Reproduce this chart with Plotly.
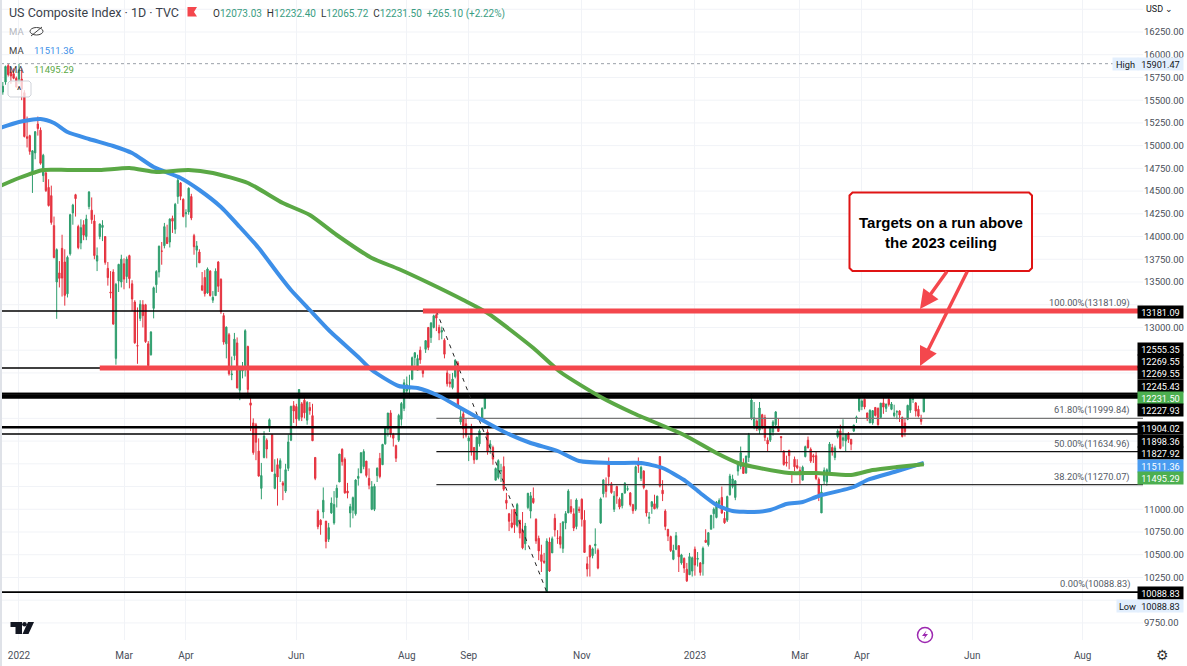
import plotly.graph_objects as go

# ---- daily candles (Dec 2021 tail, then month by month)
first_bar = -6
opens = [15590,15700,15880,15810,15790,15740,
 15733,15732,15582,15097,15110,14700,14920,15238,15170,14670,14700,14540,14450,14120,13500,13600,13870,13720,13370,13810,
 14260,14460,14110,13930,14130,14000,14330,14290,14170,13730,14000,14100,14000,13650,13390,13610,12660,13510,13500,
 13700,13560,13790,13480,13280,12800,13100,13250,13250,12820,12700,13210,13470,13610,13840,13900,13990,13940,14200,14080,14440,14590,14410,
 14250,14270,14440,14010,13850,13830,13460,13550,13380,13620,13300,13350,13720,13530,13130,12820,12920,12480,12690,12830,
 12310,12520,12580,12790,12170,11950,11930,11640,11230,11570,11760,11910,11820,11230,11490,11450,11290,11200,11450,11760,12140,
 12130,11990,12160,12200,11980,12120,12030,11570,10980,10880,10970,10870,10670,10960,10850,11130,11300,11660,11550,11200,10960,
 10990,10950,11340,11400,11470,11530,11340,11000,11000,11370,11560,11490,11720,11880,12060,11820,11700,11760,11990,12110,
 12300,12320,12430,12670,12530,12750,12540,12760,13000,12890,13000,13140,13000,12950,12860,12500,12400,12340,12460,12610,11960,12050,11940,
 11750,11900,11680,11550,11720,11980,12110,11850,11680,11680,11320,11350,11420,11470,11100,10950,10850,11000,10820,10880,10770,
 10620,11020,10980,11120,10890,10680,10500,10430,10090,10640,10520,10900,10680,10700,10570,10850,10960,11030,10950,10810,11000,
 11110,10880,10400,10600,10490,10600,10550,10850,11170,11270,11520,11280,11000,11250,11110,11040,11180,11220,11180,11050,11000,
 11520,11340,11420,11210,10900,11030,11060,11020,11580,11210,10980,10780,10700,10450,10560,10600,10410,10460,10340,10280,10320,
 10560,10450,10410,10400,10660,10610,10780,10950,10910,11060,11130,10900,10880,11160,11250,11130,11420,11470,11500,11400,
 11570,12000,11900,11970,11870,12040,12010,11760,11760,11850,11930,11910,11800,11640,11520,11650,11400,11550,11480,
 11430,11320,11580,11760,11660,11590,11590,11330,10960,11310,11300,11400,11680,11570,11800,11860,11760,11750,11830,11770,11860,12000,12090,
 12130,12210,12060,11950,11950,12120,12110,12010,12170,12110,12210,12100,12030,12070,12080,12010,11950,11990,12090,
 12210,12170,12100,12000,12073.03]
highs = [15700,15880,15901.47,15850,15850,15760,
 15900,15850,15610,15320,15120,14950,15160,15320,15200,14910,14720,14630,14560,14220,13870,13730,14020,13860,13790,14250,
 14360,14470,14130,14190,14180,14240,14500,14430,14240,13880,14140,14180,14000,13720,13620,13640,13490,13700,13800,
 13760,13780,13800,13520,13300,13220,13300,13300,13260,12850,12960,13450,13630,13900,13940,14150,14130,14200,14230,14370,14650,14600,14420,
 14300,14540,14470,14030,13950,13860,13610,13630,13660,13630,13400,13650,13730,13540,13160,13010,12940,12680,12940,12890,
 12560,12620,12980,12800,12240,12000,11950,11780,11510,11860,11780,12000,11820,11550,11560,11560,11310,11500,11820,12140,12190,
 12160,12320,12180,12260,12190,12180,12160,11570,11000,10890,11240,10870,10850,11130,11200,11270,11610,11670,11570,11290,11060,
 11140,11330,11450,11630,11660,11530,11450,11310,11280,11460,11620,11720,11910,12060,12090,11840,11710,12050,12180,12430,
 12460,12480,12680,12730,12700,12790,12560,12860,13000,13060,13140,13181,13030,13010,12880,12550,12490,12500,12650,12630,12100,12090,12000,
 11810,11940,11680,11800,11880,12120,12270,11880,11760,11700,11460,11550,11500,11580,11180,10960,11000,11000,11070,10880,10970,
 10850,11180,11190,11240,10900,10710,10610,10520,10680,10690,10700,10950,10770,10850,10870,10980,11220,11110,11010,11120,11030,
 11120,10990,10480,10610,10580,10790,10570,11130,11330,11350,11570,11300,11200,11260,11130,11180,11300,11260,11190,11060,11480,
 11570,11480,11430,11210,10970,11090,11160,11150,11580,11320,11000,10780,10710,10610,10750,10600,10510,10470,10410,10520,10480,
 10590,10530,10420,10590,10780,10750,10940,11020,11090,11120,11250,10970,11150,11390,11380,11320,11530,11690,11560,11590,
 11840,12270,12180,11990,12180,12050,12040,11790,11900,11980,12080,12000,11800,11650,11590,11650,11410,11580,11550,
 11470,11480,11700,11800,11680,11610,11640,11350,11270,11460,11450,11740,11720,11700,11880,11930,11990,11830,11850,11770,11930,12030,12230,
 12210,12220,12060,12100,12090,12120,12120,12170,12230,12160,12230,12180,12150,12090,12090,12020,12000,12150,12230,
 12270,12180,12140,12040,12232.40]
lows = [15560,15670,15760,15680,15730,15640,
 15680,15500,15090,14980,14900,14480,14850,15110,14790,14600,14490,14330,14130,13760,13095,13440,13340,13240,13330,13790,
 14130,14220,13860,13860,13960,13960,14300,14140,13750,13620,13970,13950,13690,13460,13320,13030,12590,13390,13440,
 13420,13490,13430,13180,12820,12600,13070,13000,12830,12555,12690,13100,13380,13550,13690,13870,13920,13880,14040,14030,14360,14400,14210,
 14100,14240,14180,13800,13660,13710,13400,13340,13370,13340,13270,13350,13390,13150,12810,12660,12470,12420,12640,12330,
 12200,12440,12460,12230,11860,11600,11540,11360,11110,11560,11560,11850,11410,11220,11040,11300,11100,11180,11420,11750,11950,
 11900,11970,11970,12000,11930,12040,11750,11320,10780,10720,10900,10570,10640,10950,10830,11020,11300,11480,11170,11120,10800,
 10900,10930,11260,11400,11440,11350,11220,10990,10980,11300,11340,11490,11710,11800,11790,11690,11520,11740,11920,12080,
 12270,12220,12420,12580,12530,12600,12450,12720,12750,12830,12990,12960,12860,12870,12660,12350,12340,12320,12440,12130,11930,11780,11790,
 11530,11590,11500,11540,11690,11980,12100,11600,11610,11490,11320,11330,11300,11200,11000,10760,10790,10740,10800,10680,10560,
 10550,11000,10900,11060,10620,10440,10310,10400,10088.83,10310,10520,10700,10620,10570,10520,10780,10960,10950,10760,10780,10960,
 10810,10520,10260,10260,10460,10510,10340,10840,11130,11130,11260,11170,10970,11060,11000,11010,11170,11200,11030,10950,10980,
 11400,11310,11220,10920,10840,10950,11000,11000,11240,11090,10770,10650,10530,10440,10550,10310,10390,10300,10200,10280,10260,
 10270,10370,10270,10270,10630,10590,10780,10790,10900,11030,10950,10840,10860,11150,11230,11100,11370,11440,11390,11390,
 11520,11980,11880,11860,11830,11880,11750,11630,11740,11810,11890,11850,11640,11480,11470,11440,11290,11420,11440,
 11280,11320,11570,11670,11510,11510,11320,11090,10980,11270,11260,11380,11590,11540,11780,11660,11690,11630,11730,11650,11850,11950,12070,
 12090,12100,11970,11950,11930,12020,11920,12000,12050,12070,12130,12090,12010,11990,11960,11790,11800,11980,12060,
 12170,12020,12010,11930,12065.72]
closes = [15653,15871,15781,15766,15741,15645,
 15833,15622,15100,15081,14936,14943,15153,15188,14806,14894,14506,14341,14155,13769,13856,13540,13543,13353,13771,14240,
 14346,14417,13878,14098,14015,14194,14490,14185,13791,13790,14139,14124,13716,13548,13381,13037,13474,13694,13751,
 13532,13752,13537,13313,12831,12796,13256,13130,12844,12581,12949,13437,13615,13894,13839,14109,13923,14192,14169,14354,14619,14443,14221,
 14261,14532,14204,13888,13897,13711,13411,13371,13643,13351,13332,13619,13453,13174,12839,13004,12490,12488,12871,12335,
 12536,12564,12964,12318,12145,11624,11738,11365,11371,11805,11663,11985,11418,11389,11355,11535,11265,11435,11741,12131,12081,
 11994,12317,12013,12061,12175,12086,11754,11340,10809,10829,11099,10646,10798,11069,11053,11232,11607,11524,11181,11178,11029,
 11128,11322,11362,11621,11635,11372,11265,11248,11252,11452,11360,11713,11897,12059,11834,11782,11562,12032,12163,12391,
 12369,12349,12668,12721,12658,12644,12494,12855,12780,13048,13128,13103,12939,12966,12706,12381,12381,12432,12640,12142,12018,11883,11816,
 11785,11631,11544,11792,11862,12112,12266,11634,11719,11552,11448,11535,11425,11220,11067,10868,10803,10829,11052,10738,10576,
 10816,11176,11148,11074,10652,10542,10426,10417,10650,10321,10676,10773,10680,10615,10860,10953,11200,10971,10793,11102,10988,
 10890,10525,10343,10475,10565,10616,10353,11114,11323,11196,11359,11184,11145,11146,11024,11174,11285,11226,11050,10984,11468,
 11482,11461,11240,10959,10914,11082,11005,11144,11256,11170,10811,10705,10546,10547,10709,10477,10498,10353,10213,10479,10466,
 10386,10459,10305,10570,10636,10742,10932,11001,11079,11096,10958,10852,11140,11365,11334,11313,11512,11622,11394,11585,
 11816,12201,12007,11888,12114,11911,11790,11719,11892,11961,12071,11856,11788,11492,11507,11590,11395,11467,11456,
 11379,11463,11689,11676,11530,11576,11338,11138,11189,11429,11434,11717,11631,11675,11860,11670,11787,11824,11768,11716,11926,12013,12222,
 12190,12126,11996,12088,12085,12032,11930,12167,12124,12158,12153,12158,12060,12073,12037,11800,11854,12143,12227,
 12212,12080,12025,11966,12231.50]

# ---- moving averages, sampled along the drawn curves
blue_bar = [-7,0,8,13,18,26,35,42,50,60,67,75,82,89,96,101,108,115,126,131,141,148,156,164,174,181,190,200,208,221,231,239,247,253,259,265,273,279,285,291,297,310,315,325,336]
blue_ma = [15194,15260,15293,15249,15150,15073,14996,14919,14765,14644,14512,14325,14105,13874,13599,13412,13192,12972,12675,12532,12356,12334,12246,12114,11949,11839,11729,11641,11531,11509,11509,11454,11322,11179,11047,10981,10970,10992,11058,11080,11146,11245,11322,11410,11511.36]
green_bar = [-7,0,9,18,30,41,51,63,72,85,98,108,118,131,141,153,165,174,191,201,216,228,247,259,267,275,286,296,309,317,326,336]
green_ma = [14556,14644,14732,14732,14732,14754,14710,14732,14699,14589,14369,14237,14017,13764,13643,13478,13302,13159,12774,12510,12235,12059,11817,11619,11509,11454,11399,11399,11377,11432,11465,11495.29]

# ---- axis
x_ticks = [0,39,62,103,144,167,209,251,290,313,354,395]
x_labels = ["2022","Mar","Apr","Jun","Aug","Sep","Nov","2023","Mar","Apr","Jun","Aug"]
y_ticks = [16250,16000,15750,15500,15250,15000,14750,14500,14250,14000,13750,13500,13000,11000,10750,10500,10250,9750]
y_grid = [16500,16250,16000,15750,15500,15250,15000,14750,14500,14250,14000,13750,13500,13250,13000,12750,12500,12250,12000,11750,11500,11250,11000,10750,10500,10250,10000,9750]
X_MIN, X_MAX = -6.68, 417.4
Y_MIN, Y_MAX = 9562, 16602

# ---- drawn levels: (value, width)
black_levels = [13181.09,12555.35,12269.55,12269.55,12245.43,12227.93,11904.02,11898.36,11827.92,10088.83]
black_widths = [1.5,1.5,2,2,2,2,2,2,1.6,1.8]
fib_values = [11999.84,11634.96,11270.07]
fib_colors = ["#777777","#111111","#333333"]
fib_start = 155
red_levels = [13181.09,12555.35]
red_starts = [150,30]
zig_bars = [155,196]
zig_vals = [13181.09,10088.83]
high_value = 15901.47

# ---- price tags: text, centre row, background, text colour
tag_text = ["13181.09","12555.35","12269.55","12269.55","12245.43","12231.50","12227.93","11904.02","11898.36","11827.92","11511.36","11495.29","10088.83"]
tag_row = [311.5,349,361.2,373.4,385.6,397.8,410,428,441,453,465.5,478,593]
tag_bg = ["#000000"]*5+["#4caf50","#000000","#000000","#000000","#000000","#4a9cf0","#4caf50","#000000"]
fib_label = ["100.00%(13181.09)","61.80%(11999.84)","50.00%(11634.96)","38.20%(11270.07)","0.00%(10088.83)"]
fib_label_row = [303,410,444,477,584]

W, H, L, R, T, B = 1187, 666, 1, 44, 0, 26
def px(x): return (x-L)/(W-L-R)
def py(y): return 1-(y-T)/(H-T-B)

RED = "#f4474d"
bars = list(range(first_bar, first_bar+len(closes)))
fig = go.Figure()
fig.add_trace(go.Candlestick(x=bars, open=opens, high=highs, low=lows, close=closes,
    increasing=dict(line=dict(color="#2f9e6e",width=1), fillcolor="#2f9e6e"),
    decreasing=dict(line=dict(color="#e5323f",width=1), fillcolor="#e5323f"),
    showlegend=False, hoverinfo="skip"))
for v,w in zip(black_levels,black_widths):
    fig.add_trace(go.Scatter(x=[X_MIN,X_MAX],y=[v,v],mode="lines",line=dict(color="#000000",width=w),hoverinfo="skip",showlegend=False))
for v,c in zip(fib_values,fib_colors):
    fig.add_trace(go.Scatter(x=[fib_start,X_MAX],y=[v,v],mode="lines",line=dict(color=c,width=1.3),hoverinfo="skip",showlegend=False))
fig.add_trace(go.Scatter(x=[X_MIN,X_MAX],y=[high_value,high_value],mode="lines",line=dict(color="#9aa0a8",width=1,dash="dot"),hoverinfo="skip",showlegend=False))
fig.add_trace(go.Scatter(x=zig_bars,y=zig_vals,mode="lines",line=dict(color="#222222",width=1,dash="4px,5px"),hoverinfo="skip",showlegend=False))
fig.add_trace(go.Scatter(x=blue_bar,y=blue_ma,mode="lines",line=dict(color="#3d8fe8",width=4,shape="spline",smoothing=0.6),hoverinfo="skip",showlegend=False))
fig.add_trace(go.Scatter(x=green_bar,y=green_ma,mode="lines",line=dict(color="#5aa845",width=4,shape="spline",smoothing=0.6),hoverinfo="skip",showlegend=False))
for v,s in zip(red_levels,red_starts):
    fig.add_trace(go.Scatter(x=[s,X_MAX],y=[v,v],mode="lines",line=dict(color=RED,width=5),hoverinfo="skip",showlegend=False))

FONT = "Roboto"
ann = []
def text(s, x, y, size=10, color="#131722", anchor="left", family=FONT, bg=None):
    d = dict(text=s, xref="paper", yref="paper", x=px(x), y=py(y), xanchor=anchor, yanchor="middle",
             showarrow=False, font=dict(family=family,size=size,color=color), borderpad=0)
    if bg: d["bgcolor"] = bg
    ann.append(d)
def tag(s, y, bg, color="#ffffff", x=1160, w=45):
    ann.append(dict(text=s, xref="paper", yref="paper", x=px(x), y=py(y), xanchor="center", yanchor="middle",
                    showarrow=False, font=dict(family=FONT,size=9.2,color=color), bgcolor=bg, width=w, height=12, borderpad=0, align="center"))

G = "#3a9d82"
text("US Composite Index · 1D · TVC", 8, 12, size=12.5, color="#3a3f4a")
text(f'<span style="color:#333">O</span>12073.03  <span style="color:#333">H</span>12232.40  <span style="color:#333">L</span>12065.72  <span style="color:#333">C</span>12231.50  +265.10 (+2.22%)', 212, 13.5, size=10, color=G)
text("MA", 8, 31.5, size=9.5, color="#b5b8c0")
text("MA", 8, 50.5, size=9.5, color="#444444")
text("11511.36", 33, 50.5, size=9.5, color="#3d8fe8")
text("MA", 8, 69.5, size=9.5, color="#444444")
text("11495.29", 33, 69.5, size=9.5, color="#5aa845")
text("^", 19.5, 90.5, size=10, color="#222222", anchor="center")
text("USD ⌄", 1145, 9, size=9, color="#131722")
text("⚙", 1162, 655, size=14, color="#333333", anchor="center", family="DejaVu Sans")

for s,y in zip(fib_label,fib_label_row):
    text(s, 1131, y, size=9.3, color="#555b66", anchor="right")

for s,y,b in zip(tag_text,tag_row,tag_bg):
    tag(s,y,b)
tag("15901.47", 63.5, "#e3effd", "#131722")
tag("High", 63.5, "#e3effd", "#131722", x=1125, w=25)
tag("10088.83", 605.5, "#e3effd", "#131722")
tag("Low", 605.5, "#e3effd", "#131722", x=1127, w=21)

ann.append(dict(text="<b>Targets on a run above<br>the 2023 ceiling</b>", xref="paper", yref="paper", x=px(941), y=py(232), xanchor="center", yanchor="middle",
                showarrow=False, align="center", font=dict(family="Liberation Sans",size=15,color="#000000")))
for (x0,y0,x1,y1) in [(948,270,920,309),(968,270,920,366)]:
    ann.append(dict(text="", xref="paper", yref="paper", x=px(x1), y=py(y1), ax=x0-x1, ay=y0-y1, axref="pixel", ayref="pixel",
                    showarrow=True, arrowhead=2, arrowsize=1.1, arrowwidth=3.4, arrowcolor=RED))

def path(points, close=True):
    return "M"+" L".join(f"{px(a):.5f},{py(b):.5f}" for a,b in points)+(" Z" if close else "")
def rrect(x0,y0,x1,y1,r):
    k=[(x0+r,y0),(x1-r,y0),(x1,y0+r),(x1,y1-r),(x1-r,y1),(x0+r,y1),(x0,y1-r),(x0,y0+r)]
    return path(k)
shapes = [
    dict(type="path",xref="paper",yref="paper",path=rrect(849.5,192.5,1032,271,3),fillcolor="#ffffff",line=dict(color="#e01414",width=2)),
    dict(type="path",xref="paper",yref="paper",path=rrect(8,81,31,97,2),fillcolor="rgba(255,255,255,0.75)",line=dict(color="#d0d3da",width=1)),
    dict(type="rect",xref="paper",yref="paper",x0=px(0),x1=px(2),y0=py(0),y1=py(666),fillcolor="#dfe2e8",line=dict(width=0)),
    dict(type="path",xref="paper",yref="paper",path=path([(187.5,7),(197,7),(194,12),(197,16.5),(187.5,16.5)]),fillcolor=RED,line=dict(width=0)),
    dict(type="path",xref="paper",yref="paper",path=path([(10.5,622),(22,622),(22,634),(15.5,634),(15.5,627),(10.5,627)]),fillcolor="#131722",line=dict(width=0)),
    dict(type="circle",xref="paper",yref="paper",x0=px(22.2),x1=px(26.8),y0=py(622),y1=py(626.6),fillcolor="#131722",line=dict(width=0)),
    dict(type="path",xref="paper",yref="paper",path=path([(28,622),(34,622),(28.5,634),(22.5,634)]),fillcolor="#131722",line=dict(width=0)),
    dict(type="circle",xref="paper",yref="paper",x0=px(917.5),x1=px(932.5),y0=py(627.5),y1=py(642.5),fillcolor="rgba(255,255,255,0)",line=dict(color="#9c27b0",width=1.5)),
    dict(type="path",xref="paper",yref="paper",path=path([(926.5,630.5),(922,636),(925,636),(923.5,639.5),(928,634),(925,634)]),fillcolor="#9c27b0",line=dict(width=0)),
    dict(type="circle",xref="paper",yref="paper",x0=px(30),x1=px(43),y0=py(27.5),y1=py(35),fillcolor="rgba(255,255,255,0)",line=dict(color="#444444",width=1)),
    dict(type="line",xref="paper",yref="paper",x0=px(31),x1=px(42),y0=py(36),y1=py(27),line=dict(color="#444444",width=1)),
]
for v in y_grid:
    shapes.append(dict(type="line",xref="x",yref="y",x0=X_MIN,x1=X_MAX,y0=v,y1=v,layer="below",line=dict(color="#f1f3f7",width=1)))

fig.update_layout(
    width=W, height=H, margin=dict(l=L,r=R,t=T,b=B,pad=0), autosize=False,
    paper_bgcolor="#ffffff", plot_bgcolor="#ffffff", showlegend=False,
    font=dict(family=FONT,size=10,color="#131722"),
    annotations=ann, shapes=shapes, hovermode=False,
    xaxis=dict(range=[X_MIN,X_MAX], rangeslider=dict(visible=False), tickmode="array", tickvals=x_ticks, ticktext=x_labels,
               showgrid=True, gridcolor="#f1f3f7", gridwidth=1, zeroline=False, showline=False, ticks="", ticklabelstandoff=8,
               tickfont=dict(family=FONT,size=10,color="#4a4f5a")),
    yaxis=dict(range=[Y_MIN,Y_MAX], side="right", tickmode="array", tickvals=y_ticks, tickformat=".2f",
               showgrid=False, zeroline=False, showline=False, ticks="",
               tickfont=dict(family=FONT,size=9.5,color="#4a4f5a")),
)
fig.write_html("out.html", config=dict(displayModeBar=False),
               post_script="document.body.style.margin='0';document.body.style.overflow='hidden';")
